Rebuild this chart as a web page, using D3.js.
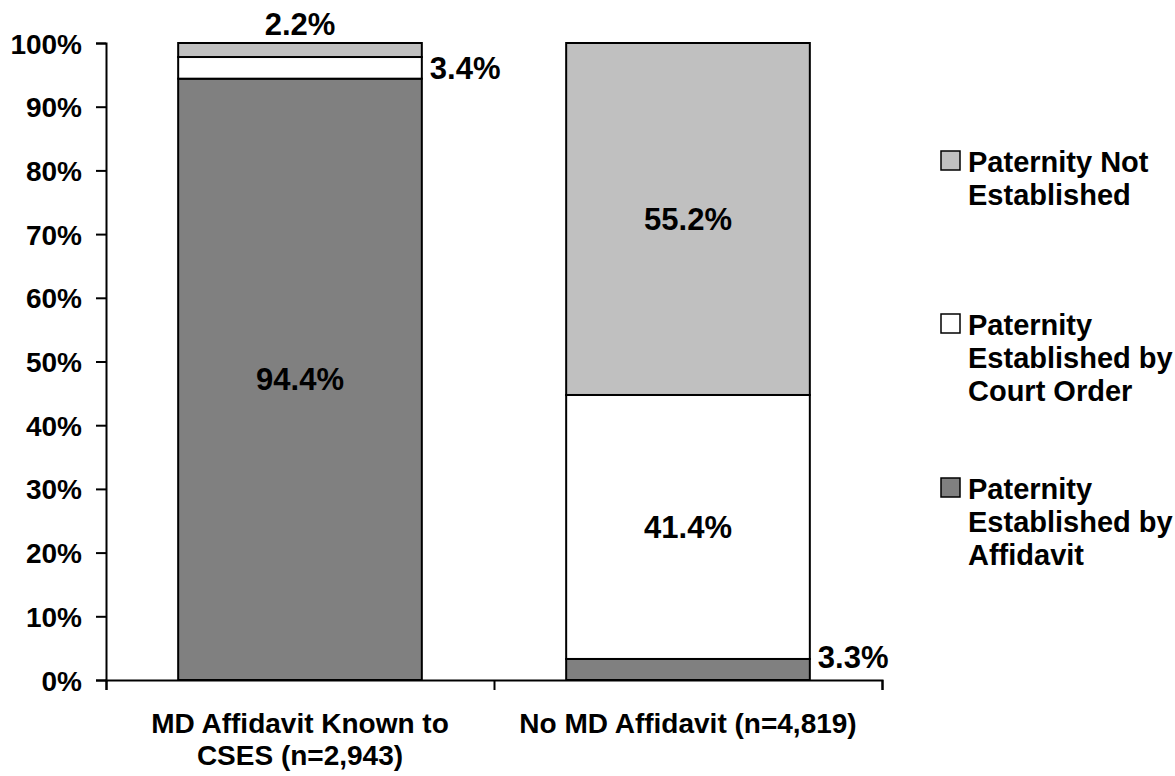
<!DOCTYPE html>
<html>
<head>
<meta charset="utf-8">
<script src="https://cdn.jsdelivr.net/npm/d3@7"></script>
<style>
  html, body { margin: 0; padding: 0; background: #fff; }
  svg { display: block; }
  text { font-family: "Liberation Sans", Arial, sans-serif; font-weight: bold; fill: #000; }
</style>
</head>
<body>
<svg id="chart" width="1175" height="776"></svg>
<script>
// Categories (one bar each), with their wrapped axis labels
const categories = ["MD Affidavit Known to CSES (n=2,943)", "No MD Affidavit (n=4,819)"];
const categoryLines = [["MD Affidavit Known to", "CSES (n=2,943)"], ["No MD Affidavit (n=4,819)"]];

// Series, stacked bottom to top
const seriesNames = ["Paternity Established by Affidavit", "Paternity Established by Court Order", "Paternity Not Established"];
const affidavit = [94.4, 3.3];
const courtOrder = [3.4, 41.4];
const notEstablished = [2.2, 55.2];

// Legend lines (listed top to bottom)
const legendLines = [
  ["Paternity Not", "Established"],
  ["Paternity", "Established by", "Court Order"],
  ["Paternity", "Established by", "Affidavit"]
];

const yTicks = [0, 0.1, 0.2, 0.3, 0.4, 0.5, 0.6, 0.7, 0.8, 0.9, 1];

const seriesKeys = ["affidavit", "courtOrder", "notEstablished"];
const seriesColors = { affidavit: "#808080", courtOrder: "#ffffff", notEstablished: "#c0c0c0" };

const rows = categories.map((c, i) => ({
  category: c,
  affidavit: affidavit[i],
  courtOrder: courtOrder[i],
  notEstablished: notEstablished[i]
}));

const svg = d3.select("#chart");
const plot = { left: 106, right: 882, top: 43, bottom: 680 };

const x = d3.scaleBand()
  .domain(d3.range(categories.length))
  .range([plot.left, plot.right])
  .paddingInner(0.372)
  .paddingOuter(0.186);

const y = d3.scaleLinear().domain([0, 1]).range([plot.bottom, plot.top]);

// 100% stacked layout
const stacked = d3.stack().keys(seriesKeys).offset(d3.stackOffsetExpand)(rows);

// Bars
const layers = svg.append("g").selectAll("g")
  .data(stacked)
  .join("g")
  .attr("fill", d => seriesColors[d.key]);

layers.selectAll("rect")
  .data(d => d.map((v, i) => ({ v, i, key: d.key })))
  .join("rect")
  .attr("x", d => x(d.i))
  .attr("width", x.bandwidth())
  .attr("y", d => y(d.v[1]))
  .attr("height", d => y(d.v[0]) - y(d.v[1]))
  .attr("stroke", "#000")
  .attr("stroke-width", 2);

// Y axis
const yAxis = svg.append("g")
  .attr("transform", `translate(${plot.left},0)`)
  .call(d3.axisLeft(y).tickValues(yTicks).tickSize(10).tickPadding(14)
    .tickFormat(d => Math.round(d * 100) + "%"));
yAxis.select(".domain").attr("stroke", "#000").attr("stroke-width", 2);
yAxis.selectAll(".tick line").attr("stroke", "#000").attr("stroke-width", 2);
yAxis.selectAll(".tick text")
  .style("font-size", "28px").style("font-family", "'Liberation Sans', Arial, sans-serif")
  .style("font-weight", "bold").attr("fill", "#000").attr("dy", "0.36em");

// X axis with ticks on category boundaries
const xEdges = d3.scaleLinear().domain([0, categories.length]).range([plot.left, plot.right]);
const xAxis = svg.append("g")
  .attr("transform", `translate(0,${plot.bottom})`)
  .call(d3.axisBottom(xEdges).tickValues(d3.range(categories.length + 1)).tickSize(10).tickFormat(""));
xAxis.select(".domain").attr("stroke", "#000").attr("stroke-width", 2);
xAxis.selectAll(".tick line").attr("stroke", "#000").attr("stroke-width", 2);

// Category labels
categoryLines.forEach((lines, i) => {
  const t = svg.append("text")
    .attr("text-anchor", "middle")
    .attr("font-size", 28)
    .attr("x", x(i) + x.bandwidth() / 2)
    .attr("y", 733);
  lines.forEach((ln, j) => {
    t.append("tspan").attr("x", x(i) + x.bandwidth() / 2).attr("dy", j === 0 ? 0 : 32).text(ln);
  });
});

// Value labels
const labelSize = 31;
const capHalf = labelSize * 0.716 / 2;
stacked.forEach((layer, si) => {
  layer.forEach((v, i) => {
    const raw = rows[i][layer.key];
    const txt = raw.toFixed(1) + "%";
    const yTop = y(v[1]), yBot = y(v[0]);
    const mid = (yTop + yBot) / 2;
    const cx = x(i) + x.bandwidth() / 2;
    let tx, ty, anchor;
    if (yBot - yTop > 40) {
      tx = cx; ty = mid + capHalf; anchor = "middle";
    } else if (si === stacked.length - 1) {
      tx = cx; ty = yTop - 8; anchor = "middle";
    } else {
      tx = x(i) + x.bandwidth() + 8;
      ty = Math.min(mid + capHalf, plot.bottom - 12);
      anchor = "start";
    }
    svg.append("text")
      .attr("x", tx).attr("y", ty)
      .attr("text-anchor", anchor)
      .attr("font-size", labelSize)
      .text(txt);
  });
});

// Legend
const legendKeys = seriesKeys.slice().reverse();
const legendTops = [151, 314, 478];
legendKeys.forEach((k, i) => {
  const g = svg.append("g");
  g.append("rect")
    .attr("x", 941).attr("y", legendTops[i])
    .attr("width", 19).attr("height", 19)
    .attr("fill", seriesColors[k])
    .attr("stroke", "#000").attr("stroke-width", 1.5);
  const t = g.append("text").attr("font-size", 29).attr("x", 968).attr("y", legendTops[i] + 21);
  legendLines[i].forEach((ln, j) => {
    t.append("tspan").attr("x", 968).attr("dy", j === 0 ? 0 : 33).text(ln);
  });
});
</script>
</body>
</html>
